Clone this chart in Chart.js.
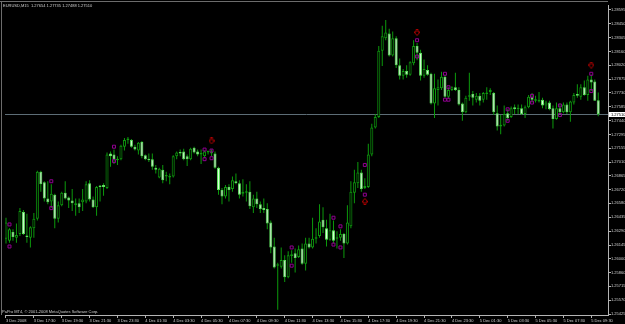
<!DOCTYPE html>
<html>
<head>
<meta charset="utf-8">
<title>EURUSD M15</title>
<script src="https://cdn.jsdelivr.net/npm/chart.js@4.4.0/dist/chart.umd.min.js"></script>
<style>
  html, body { margin: 0; padding: 0; background: #000; }
  #wrap { width: 625px; height: 324px; }
</style>
</head>
<body>
<div id="wrap"><canvas id="chart" width="625" height="324"></canvas></div>
<script>
// EURUSD 15 minute bars, 3 Dec 15:30 .. 5 Dec 10:00
const symbol = 'EURUSD,M15';

const opens = [
  1.2621, 1.2619, 1.2628, 1.2622, 1.2626, 1.2649, 1.2624, 1.2622, 1.2632, 1.2642,
  1.2691, 1.2680, 1.2663, 1.2660, 1.2667, 1.2642, 1.2656, 1.2669, 1.2664, 1.2661,
  1.2656, 1.2658, 1.2659, 1.2660, 1.2679, 1.2662, 1.2654, 1.2676, 1.2677, 1.2674,
  1.2710, 1.2709, 1.2703, 1.2704, 1.2717, 1.2724, 1.2724, 1.2717, 1.2713, 1.2722,
  1.2708, 1.2704, 1.2704, 1.2695, 1.2685, 1.2693, 1.2686, 1.2685, 1.2686, 1.2707,
  1.2711, 1.2712, 1.2707, 1.2704, 1.2716, 1.2712, 1.2709, 1.2707, 1.2711, 1.2710,
  1.2710, 1.2695, 1.2672, 1.2665, 1.2675, 1.2673, 1.2681, 1.2679, 1.2668, 1.2669,
  1.2670, 1.2654, 1.2663, 1.2657, 1.2653, 1.2652, 1.2638, 1.2613, 1.2593, 1.2592,
  1.2599, 1.2581, 1.2603, 1.2606, 1.2602, 1.2611, 1.2595, 1.2616, 1.2612, 1.2621,
  1.2624, 1.2641, 1.2632, 1.2620, 1.2630, 1.2621, 1.2622, 1.2626, 1.2616, 1.2634,
  1.2669, 1.2679, 1.2690, 1.2674, 1.2675, 1.2709, 1.2737, 1.2748, 1.2817, 1.2830,
  1.2835, 1.2812, 1.2830, 1.2802, 1.2791, 1.2796, 1.2792, 1.2804, 1.2822, 1.2815,
  1.2791, 1.2797, 1.2793, 1.2762, 1.2776, 1.2778, 1.2790, 1.2769, 1.2776, 1.2779,
  1.2776, 1.2762, 1.2753, 1.2769, 1.2772, 1.2766, 1.2770, 1.2766, 1.2772, 1.2774,
  1.2773, 1.2752, 1.2738, 1.2739, 1.2752, 1.2748, 1.2758, 1.2756, 1.2757, 1.2751,
  1.2758, 1.2769, 1.2765, 1.2764, 1.2766, 1.2760, 1.2763, 1.2757, 1.2746, 1.2757,
  1.2753, 1.2761, 1.2753, 1.2763, 1.2772, 1.2769, 1.2779, 1.2771, 1.2787, 1.2785,
  1.27654
];
const highs = [
  1.2643, 1.2632, 1.2631, 1.2637, 1.2653, 1.2651, 1.2647, 1.2634, 1.2648, 1.2692,
  1.2692, 1.2681, 1.2681, 1.2678, 1.2668, 1.2660, 1.2670, 1.2681, 1.2665, 1.2673,
  1.2663, 1.2663, 1.2673, 1.2681, 1.2682, 1.2665, 1.2676, 1.2677, 1.2679, 1.2711,
  1.2712, 1.2714, 1.2707, 1.2719, 1.2726, 1.2727, 1.2725, 1.2719, 1.2722, 1.2723,
  1.2709, 1.2710, 1.2710, 1.2698, 1.2695, 1.2698, 1.2691, 1.2689, 1.2708, 1.2712,
  1.2714, 1.2715, 1.2709, 1.2716, 1.2717, 1.2714, 1.2714, 1.2713, 1.2713, 1.2714,
  1.2712, 1.2696, 1.2674, 1.2677, 1.2678, 1.2686, 1.2689, 1.2682, 1.2683, 1.2678,
  1.2681, 1.2667, 1.2670, 1.2660, 1.2663, 1.2658, 1.2640, 1.2622, 1.2596, 1.2612,
  1.2604, 1.2608, 1.2609, 1.2611, 1.2614, 1.2616, 1.2622, 1.2622, 1.2643, 1.2632,
  1.2657, 1.2654, 1.2641, 1.2647, 1.2640, 1.2629, 1.2631, 1.2627, 1.2656, 1.2681,
  1.2693, 1.2701, 1.2693, 1.2684, 1.2720, 1.2741, 1.2751, 1.2822, 1.2843, 1.2849,
  1.2840, 1.2837, 1.2832, 1.2809, 1.2798, 1.2802, 1.2806, 1.2828, 1.2825, 1.2818,
  1.2808, 1.2802, 1.2794, 1.2793, 1.2787, 1.2795, 1.2792, 1.2779, 1.2780, 1.2794,
  1.2779, 1.2763, 1.2770, 1.2794, 1.2775, 1.2773, 1.2773, 1.2774, 1.2779, 1.2778,
  1.2774, 1.2760, 1.2750, 1.2760, 1.2756, 1.2759, 1.2761, 1.2761, 1.2761, 1.2760,
  1.2771, 1.2773, 1.2770, 1.2774, 1.2768, 1.2765, 1.2765, 1.2760, 1.2763, 1.2762,
  1.2763, 1.2763, 1.2765, 1.2773, 1.2782, 1.2782, 1.2786, 1.2791, 1.2792, 1.2787,
  1.27735
];
const lows = [
  1.2616, 1.2617, 1.2619, 1.2617, 1.2624, 1.2625, 1.2617, 1.2612, 1.2622, 1.2640,
  1.2670, 1.2660, 1.2657, 1.2653, 1.2632, 1.2638, 1.2655, 1.2662, 1.2653, 1.2650,
  1.2645, 1.2648, 1.2650, 1.2658, 1.2660, 1.2653, 1.2645, 1.2660, 1.2666, 1.2673,
  1.2696, 1.2699, 1.2698, 1.2703, 1.2713, 1.2720, 1.2716, 1.2713, 1.2709, 1.2705,
  1.2703, 1.2701, 1.2693, 1.2689, 1.2684, 1.2679, 1.2681, 1.2678, 1.2685, 1.2704,
  1.2707, 1.2703, 1.2697, 1.2703, 1.2710, 1.2707, 1.2699, 1.2705, 1.2709, 1.2707,
  1.2694, 1.2667, 1.2657, 1.2663, 1.2660, 1.2670, 1.2678, 1.2663, 1.2665, 1.2660,
  1.2652, 1.2648, 1.2653, 1.2648, 1.2648, 1.2631, 1.2606, 1.2590, 1.2547, 1.2590,
  1.2576, 1.2580, 1.2596, 1.2586, 1.2601, 1.2594, 1.2588, 1.2611, 1.2611, 1.2616,
  1.2622, 1.2627, 1.2613, 1.2619, 1.2616, 1.2611, 1.2619, 1.2601, 1.2615, 1.2632,
  1.2658, 1.2674, 1.2670, 1.2673, 1.2674, 1.2707, 1.2736, 1.2747, 1.2801, 1.2828,
  1.2811, 1.2811, 1.2799, 1.2787, 1.2787, 1.2789, 1.2791, 1.2802, 1.2807, 1.2786,
  1.2789, 1.2791, 1.2761, 1.2747, 1.2760, 1.2776, 1.2768, 1.2767, 1.2775, 1.2775,
  1.2760, 1.2744, 1.2752, 1.2765, 1.2760, 1.2763, 1.2760, 1.2763, 1.2766, 1.2771,
  1.2750, 1.2734, 1.2730, 1.2738, 1.2744, 1.2747, 1.2751, 1.2751, 1.2750, 1.2747,
  1.2757, 1.2763, 1.2763, 1.2763, 1.2757, 1.2756, 1.2755, 1.2736, 1.2745, 1.2751,
  1.2752, 1.2751, 1.2743, 1.2761, 1.2768, 1.2766, 1.2770, 1.2765, 1.2775, 1.2765,
  1.27488
];
const closes = [
  1.2638, 1.2631, 1.2623, 1.2625, 1.2650, 1.2626, 1.2623, 1.2633, 1.2642, 1.2691,
  1.2678, 1.2663, 1.2659, 1.2668, 1.2642, 1.2656, 1.2669, 1.2663, 1.2661, 1.2658,
  1.2658, 1.2654, 1.2662, 1.2678, 1.2662, 1.2654, 1.2675, 1.2675, 1.2675, 1.2709,
  1.2707, 1.2704, 1.2704, 1.2718, 1.2724, 1.2725, 1.2717, 1.2714, 1.2721, 1.2707,
  1.2704, 1.2703, 1.2696, 1.2693, 1.2694, 1.2682, 1.2687, 1.2686, 1.2707, 1.2711,
  1.2710, 1.2704, 1.2704, 1.2715, 1.2711, 1.2709, 1.2710, 1.2712, 1.2712, 1.2712,
  1.2695, 1.2672, 1.2665, 1.2675, 1.2672, 1.2682, 1.2679, 1.2667, 1.2670, 1.2670,
  1.2655, 1.2663, 1.2657, 1.2652, 1.2651, 1.2637, 1.2612, 1.2591, 1.2594, 1.2599,
  1.2581, 1.2604, 1.2605, 1.2601, 1.2610, 1.2595, 1.2616, 1.2612, 1.2621, 1.2622,
  1.2639, 1.2633, 1.2620, 1.2630, 1.2619, 1.2622, 1.2626, 1.2616, 1.2638, 1.2670,
  1.2680, 1.2690, 1.2673, 1.2676, 1.2709, 1.2737, 1.2748, 1.2817, 1.2832, 1.2836,
  1.2812, 1.2830, 1.2802, 1.2791, 1.2796, 1.2792, 1.2805, 1.2822, 1.2815, 1.2791,
  1.2798, 1.2792, 1.2762, 1.2778, 1.2779, 1.2790, 1.2769, 1.2776, 1.2779, 1.2776,
  1.2761, 1.2753, 1.2768, 1.2770, 1.2768, 1.2770, 1.2765, 1.2773, 1.2773, 1.2776,
  1.2753, 1.2738, 1.2740, 1.2751, 1.2747, 1.2757, 1.2756, 1.2757, 1.2751, 1.2758,
  1.2769, 1.2766, 1.2766, 1.2766, 1.2760, 1.2763, 1.2756, 1.2746, 1.2757, 1.2753,
  1.2761, 1.2753, 1.2764, 1.2771, 1.2770, 1.2779, 1.2771, 1.2787, 1.2784, 1.2765,
  1.27510
];

// time axis labels, one every 8 bars
const timeLabels = [
  '3 Dec 2008', '3 Dec 17:30', '3 Dec 19:30', '3 Dec 21:30', '3 Dec 23:30',
  '4 Dec 01:30', '4 Dec 03:30', '4 Dec 05:30', '4 Dec 07:30', '4 Dec 09:30',
  '4 Dec 11:30', '4 Dec 13:30', '4 Dec 15:30', '4 Dec 17:30', '4 Dec 19:30',
  '4 Dec 21:30', '4 Dec 23:30', '5 Dec 01:30', '5 Dec 03:30', '5 Dec 05:30',
  '5 Dec 07:30', '5 Dec 09:30'
];
const timeLabelBars = [0, 8, 16, 24, 32, 40, 48, 56, 64, 72, 80, 88, 96, 104, 112, 120, 128, 136, 144, 152, 160, 168];

// price axis labels
const priceTicks = [
  1.28595, 1.28450, 1.28305, 1.28160, 1.28020, 1.27875, 1.27730, 1.27585,
  1.27440, 1.27295, 1.27155, 1.27010, 1.26865, 1.26720, 1.26580, 1.26435,
  1.26290, 1.26145, 1.26000, 1.25860, 1.25715, 1.25570, 1.25425
];
const priceMin = 1.25416;
const priceMax = 1.28647;
const bidPrice = 1.27510;

// indicator marks: purple squares, red arrows
const markerBars = [1, 1, 13, 13, 31, 31, 57, 57, 59, 59, 82, 82, 94, 94, 96, 96,
  103, 103, 118, 118, 126, 126, 127, 127, 144, 144, 151, 151, 159, 159, 168, 168];
const markerPrices = [1.2636, 1.2613, 1.2681, 1.2653, 1.2717, 1.2702, 1.2714, 1.2704,
  1.2713, 1.2705, 1.2612, 1.2593, 1.2643, 1.2615, 1.2634, 1.2612,
  1.2698, 1.2667, 1.2828, 1.2811, 1.2793, 1.2766, 1.2779, 1.2766,
  1.2756, 1.2744, 1.2770, 1.2763, 1.2760, 1.2750, 1.2793, 1.2775];
const arrowDownBars = [59, 118, 168];
const arrowDownPrices = [1.2723, 1.2836, 1.2802];
const arrowUpBars = [103];
const arrowUpPrices = [1.2660];

const wickColor = '#0c9a0c';
const bullBorder = '#0f9a0f';
const bullFill = '#000000';
const bearBorder = '#5ede5e';
const bearFill = '#dcffdc';
const axisColor = '#b4b4b4';
const textColor = '#cfcfcf';

// small hollow arrow glyphs for the signal marks
function makeArrow(up) {
  const c = document.createElement('canvas');
  c.width = 6; c.height = 7;
  const g = c.getContext('2d');
  let pts = [[1.5, 0.5], [3.5, 0.5], [3.5, 3.0], [5.5, 3.0], [2.5, 6.5], [-0.5, 3.0], [1.5, 3.0]];
  if (up) pts = pts.map(p => [p[0], 7 - p[1]]);
  g.strokeStyle = '#b00000';
  g.lineWidth = 1;
  g.beginPath();
  pts.forEach((p, i) => i ? g.lineTo(p[0] + 0.5, p[1]) : g.moveTo(p[0] + 0.5, p[1]));
  g.closePath();
  g.stroke();
  return c;
}

const bars = opens.map((_, i) => i);
const isBull = bars.map(i => closes[i] >= opens[i]);

const mt4Frame = {
  id: 'mt4Frame',
  beforeDraw(chart) {
    const ctx = chart.ctx;
    ctx.save();
    ctx.fillStyle = '#000000';
    ctx.fillRect(0, 0, chart.width, chart.height);
    ctx.restore();
  },
  beforeDatasetsDraw(chart) {
    const {ctx, chartArea, scales} = chart;
    const y = Math.round(scales.y.getPixelForValue(bidPrice)) + 0.5;
    ctx.save();
    ctx.lineWidth = 1;
    ctx.strokeStyle = '#5d6d76';
    ctx.beginPath();
    ctx.moveTo(chartArea.left, y);
    ctx.lineTo(chartArea.right, y);
    ctx.stroke();
    ctx.strokeStyle = '#6c6c6c';
    ctx.beginPath();
    ctx.moveTo(0, 1.5);
    ctx.lineTo(chartArea.right, 1.5);
    ctx.moveTo(1.5, 1.5);
    ctx.lineTo(1.5, chartArea.bottom);
    ctx.stroke();
    ctx.restore();
  },
  afterDraw(chart) {
    const {ctx, chartArea, scales} = chart;
    const last = opens.length - 1;
    const y = scales.y.getPixelForValue(bidPrice);
    ctx.save();
    // current price box on the price axis
    ctx.fillStyle = '#ffffff';
    ctx.fillRect(chartArea.right + 1, Math.round(y) - 2, 17, 5);
    ctx.fillStyle = '#000000';
    ctx.font = '4px "Liberation Sans"';
    ctx.textBaseline = 'middle';
    ctx.textAlign = 'left';
    ctx.fillText(bidPrice.toFixed(5), chartArea.right + 3, Math.round(y) + 0.5);
    // header and copyright
    ctx.fillStyle = textColor;
    const head = symbol + '  ' + [opens[last], highs[last], lows[last], closes[last]]
      .map(v => v.toFixed(5)).join(' ');
    ctx.fillText(head, 3, 5.5);
    ctx.fillText('PaPro MT4, \u00a9 2001-2008 MetaQuotes Software Corp.', 2, chartArea.bottom - 3);
    ctx.restore();
  }
};

Chart.defaults.font.family = '"Liberation Sans", Arial, sans-serif';
Chart.defaults.font.size = 4;
Chart.defaults.color = textColor;

new Chart(document.getElementById('chart'), {
  type: 'bar',
  data: {
    datasets: [
      {
        label: 'wicks',
        data: bars.map(i => ({x: i, y: [lows[i], highs[i]]})),
        backgroundColor: wickColor,
        borderWidth: 0,
        maxBarThickness: 1,
        barPercentage: 1,
        categoryPercentage: 1,
        grouped: false,
        inflateAmount: 0,
        order: 3
      },
      {
        label: 'bodies',
        data: bars.map(i => ({x: i, y: [opens[i], closes[i]]})),
        backgroundColor: bars.map(i => isBull[i] ? bullFill : bearFill),
        borderColor: bars.map(i => isBull[i] ? bullBorder : bearBorder),
        borderWidth: 1,
        borderSkipped: false,
        minBarLength: 1.5,
        maxBarThickness: 3,
        barPercentage: 1,
        categoryPercentage: 1,
        grouped: false,
        inflateAmount: 0,
        order: 2
      },
      {
        type: 'scatter',
        label: 'marks',
        data: markerBars.map((b, k) => ({x: b, y: markerPrices[k]})),
        pointStyle: 'rect',
        pointRadius: 2.1,
        borderWidth: 1,
        borderColor: '#910091',
        backgroundColor: 'rgba(0,0,0,0)',
        order: 1
      },
      {
        type: 'scatter',
        label: 'sell',
        data: arrowDownBars.map((b, k) => ({x: b, y: arrowDownPrices[k]})),
        pointStyle: makeArrow(false),
        order: 0
      },
      {
        type: 'scatter',
        label: 'buy',
        data: arrowUpBars.map((b, k) => ({x: b, y: arrowUpPrices[k]})),
        pointStyle: makeArrow(true),
        order: 0
      }
    ]
  },
  options: {
    responsive: false,
    animation: false,
    devicePixelRatio: 1,
    layout: { padding: { top: 1, left: 0, right: 0, bottom: 0 } },
    plugins: {
      legend: { display: false },
      tooltip: { enabled: false }
    },
    scales: {
      x: {
        type: 'linear',
        min: -0.285,
        max: 172.8,
        offset: false,
        grid: { display: true, offset: false, drawOnChartArea: false, drawTicks: true, tickLength: 3, color: axisColor },
        border: { display: true, color: axisColor, width: 1 },
        afterBuildTicks: (scale) => { scale.ticks = timeLabelBars.map(v => ({value: v})); },
        afterFit: (scale) => { scale.height = 9; scale.paddingLeft = 0; scale.paddingRight = 0; },
        ticks: {
          autoSkip: false,
          maxRotation: 0,
          align: 'start',
          padding: 0,
          color: textColor,
          callback: (value, index) => timeLabels[index]
        }
      },
      y: {
        type: 'linear',
        position: 'right',
        min: priceMin,
        max: priceMax,
        grid: { display: true, drawOnChartArea: false, drawTicks: true, tickLength: 3, color: axisColor },
        border: { display: true, color: axisColor, width: 1 },
        afterBuildTicks: (scale) => { scale.ticks = priceTicks.map(v => ({value: v})); },
        afterFit: (scale) => { scale.width = 17; scale.paddingTop = 0; scale.paddingBottom = 0; },
        ticks: {
          autoSkip: false,
          padding: 0,
          color: textColor,
          callback: (value) => Number(value).toFixed(5)
        }
      }
    }
  },
  plugins: [mt4Frame]
});
</script>
</body>
</html>
